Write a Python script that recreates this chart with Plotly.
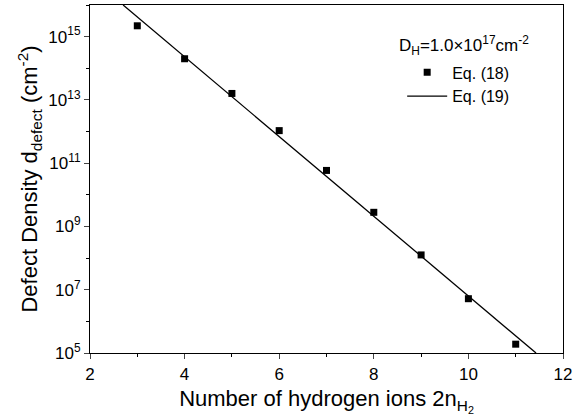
import plotly.graph_objects as go

# Eq. (18) data points
n_ions = [3, 4, 5, 6, 7, 8, 9, 10, 11]
defect_density = [2.2e15, 2.0e14, 1.6e13, 1.07e12, 5.9e10, 2.8e9, 1.26e8, 5.2e6, 1.9e5]

# Eq. (19) fitted line endpoints
line_x = [2.70, 11.43]
line_y = [1e16, 1e5]

x_ticks = [2, 4, 6, 8, 10, 12]
y_tickvals = [1e5, 1e7, 1e9, 1e11, 1e13, 1e15]
y_ticktext = ["10<sup>5</sup>", "10<sup>7</sup>", "10<sup>9</sup>", "10<sup>11</sup>",
              "10<sup>13</sup>", "10<sup>15</sup>"]
y_minor = [1e6, 1e8, 1e10, 1e12, 1e14, 1e16]

FONT = "Liberation Sans, Arial, sans-serif"

fig = go.Figure()
fig.add_trace(go.Scatter(x=n_ions, y=defect_density, mode="markers", name="Eq. (18)",
                         marker=dict(symbol="square", size=7, color="black")))
fig.add_trace(go.Scatter(x=line_x, y=line_y, mode="lines", name="Eq. (19)",
                         line=dict(color="black", width=1.3)))

fig.update_layout(
    width=584, height=420,
    margin=dict(l=90, r=21, t=5, b=67),
    paper_bgcolor="white", plot_bgcolor="white",
    font=dict(family=FONT, color="black", size=16),
    showlegend=True,
    legend=dict(x=0.66, y=0.855, xanchor="left", yanchor="top",
                bgcolor="rgba(0,0,0,0)", font=dict(size=16), itemwidth=40,
                tracegroupgap=0),
    xaxis=dict(range=[2, 12], tickvals=x_ticks, ticks="outside", ticklen=5,
               showline=True, linecolor="black", linewidth=1.2, mirror=True,
               showgrid=False, zeroline=False,
               minor=dict(tickvals=[3, 5, 7, 9, 11], ticks="outside", ticklen=3,
                          tickcolor="black", showgrid=False),
               title=dict(text="Number of hydrogen ions 2n<sub>H<sub>2</sub></sub>",
                          font=dict(size=22), standoff=8),
               tickfont=dict(size=17)),
    yaxis=dict(type="log", range=[5, 16], tickvals=y_tickvals, ticktext=y_ticktext,
               ticks="outside", ticklen=5,
               showline=True, linecolor="black", linewidth=1.2, mirror=True,
               showgrid=False, zeroline=False,
               minor=dict(tickvals=y_minor, ticks="outside", ticklen=3,
                          tickcolor="black", showgrid=False),
               title=dict(text="Defect Density d<sub>defect</sub> (cm<sup>-2</sup>)",
                          font=dict(size=22), standoff=4),
               tickfont=dict(size=17)),
    annotations=[dict(x=0.65, y=0.885, xref="paper", yref="paper", xanchor="left",
                      yanchor="middle", showarrow=False,
                      text="D<sub>H</sub>=1.0×10<sup>17</sup>cm<sup>-2</sup>",
                      font=dict(size=17))],
)

fig.write_html("out.html", config={"displayModeBar": False},
               post_script="document.body.style.margin='0';")
